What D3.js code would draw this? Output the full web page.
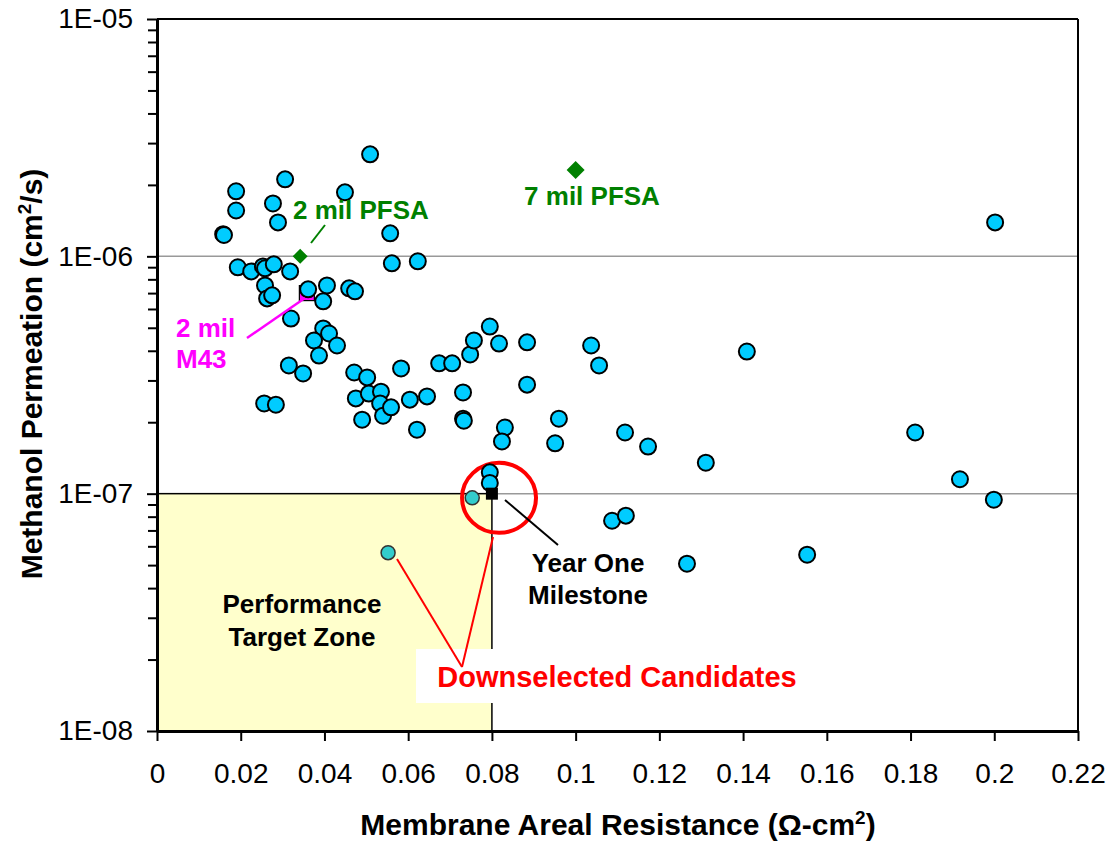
<!DOCTYPE html>
<html><head><meta charset="utf-8">
<script src="https://cdn.jsdelivr.net/npm/d3@7"></script>
<style>
body{margin:0;background:#fff;}
svg{display:block;font-family:"Liberation Sans",Arial,sans-serif;}
</style></head><body>
<svg id="chart" width="1112" height="841"></svg>
<script>
// ---------------- DATA ----------------
const resistance = [
  0.0509,0.0306,0.0189,0.0449,0.0277,0.0189,0.0289,0.0158,0.0160,0.0557,
  0.0561,0.0623,0.2002,0.0193,0.0225,0.0253,0.0258,0.0279,0.0318,0.0258,
  0.0263,0.0275,0.0361,0.0406,0.0397,0.0459,0.0473,0.0320,0.0397,0.0411,
  0.0375,0.0430,0.0387,0.0315,0.0349,0.0256,0.0284,0.0471,0.0502,0.0583,
  0.0674,0.0705,0.0748,0.0757,0.0795,0.0817,0.0884,0.1037,0.1056,0.0884,
  0.1409,0.0475,0.0506,0.0535,0.0533,0.0540,0.0559,0.0604,0.0645,0.0490,
  0.0621,0.0731,0.0731,0.0733,0.0831,0.0824,0.0960,0.0951,0.1118,0.1173,
  0.1311,0.1811,0.1918,0.1999,0.0795,0.0795,0.1087,0.1120,0.1266,0.1553
];
const permeation = [
  2.69e-6,2.11e-6,1.88e-6,1.86e-6,1.67e-6,1.56e-6,1.39e-6,1.24e-6,1.23e-6,1.25e-6,
  9.34e-7,9.53e-7,1.39e-6,8.99e-7,8.64e-7,9.07e-7,8.90e-7,9.25e-7,8.64e-7,7.54e-7,
  6.65e-7,6.85e-7,7.26e-7,7.54e-7,6.46e-7,7.33e-7,7.12e-7,5.47e-7,4.97e-7,4.73e-7,
  4.42e-7,4.21e-7,3.82e-7,3.47e-7,3.21e-7,2.40e-7,2.37e-7,3.24e-7,3.09e-7,3.37e-7,
  3.54e-7,3.54e-7,3.86e-7,4.42e-7,5.06e-7,4.29e-7,4.34e-7,4.21e-7,3.47e-7,2.88e-7,
  3.97e-7,2.52e-7,2.64e-7,2.69e-7,2.40e-7,2.13e-7,2.31e-7,2.49e-7,2.57e-7,2.05e-7,
  1.86e-7,2.67e-7,2.07e-7,2.03e-7,1.90e-7,1.66e-7,2.07e-7,1.63e-7,1.81e-7,1.58e-7,
  1.35e-7,1.81e-7,1.15e-7,9.43e-8,1.23e-7,1.11e-7,7.69e-8,8.08e-8,5.07e-8,5.53e-8
];
const downselectedResistance = [0.0753, 0.0552];
const downselectedPermeation = [9.6e-8, 5.64e-8];
const pfsaNames = ["2 mil PFSA", "7 mil PFSA"];
const pfsaResistance = [0.0342, 0.1];
const pfsaPermeation = [1.0e-6, 2.31e-6];
const m43Resistance = [0.0358];
const m43Permeation = [7.0e-7];
const milestoneResistance = [0.08];
const milestonePermeation = [1.0e-7];
const targetResistanceMax = 0.08;
const targetPermeationMax = 1.0e-7;
const xTicks = [0,0.02,0.04,0.06,0.08,0.1,0.12,0.14,0.16,0.18,0.2,0.22];
const xTickLabels = ["0","0.02","0.04","0.06","0.08","0.1","0.12","0.14","0.16","0.18","0.2","0.22"];
const yTicks = [1e-8,1e-7,1e-6,1e-5];
const yTickLabels = ["1E-08","1E-07","1E-06","1E-05"];

// ---------------- CHART ----------------
const svg = d3.select("#chart");
const x = d3.scaleLinear().domain([0,0.22]).range([157,1078]);
const y = d3.scaleLog().domain([1e-8,1e-5]).range([731,19]);
const font = '"Liberation Sans",Arial,sans-serif';

// gridlines (major decades)
svg.append("g").selectAll("line").data([1e-7,1e-6]).join("line")
  .attr("x1", x(0)).attr("x2", x(0.22))
  .attr("y1", d=>y(d)).attr("y2", d=>y(d))
  .attr("stroke","#999").attr("stroke-width",1.5);

// performance target zone
svg.append("rect")
  .attr("x", x(0)).attr("y", y(targetPermeationMax))
  .attr("width", x(targetResistanceMax)-x(0))
  .attr("height", y(1e-8)-y(targetPermeationMax))
  .attr("fill","#FFFFCC").attr("stroke","#000").attr("stroke-width",1.5);

// plot border top/right
svg.append("line").attr("x1",x(0)).attr("x2",x(0.22)).attr("y1",y(1e-5)).attr("y2",y(1e-5))
  .attr("stroke","#000").attr("stroke-width",2);
svg.append("line").attr("x1",x(0.22)).attr("x2",x(0.22)).attr("y1",y(1e-5)).attr("y2",y(1e-8))
  .attr("stroke","#000").attr("stroke-width",2);

// red ellipse around milestone
svg.append("ellipse")
  .attr("cx", x(0.0817)).attr("cy", y(9.6e-8)).attr("rx",37).attr("ry",35)
  .attr("fill","none").attr("stroke","#FF0000").attr("stroke-width",4);

// M43 marker (behind points)
svg.append("g").selectAll("rect").data(m43Resistance).join("rect")
  .attr("x",(d,i)=>x(d)-7.5).attr("y",(d,i)=>y(m43Permeation[i])-7.5)
  .attr("width",15).attr("height",15)
  .attr("fill","#FF00FF").attr("stroke","#000").attr("stroke-width",1.2);

// main series
svg.append("g").selectAll("circle").data(resistance).join("circle")
  .attr("cx", d=>x(d)).attr("cy", (d,i)=>y(permeation[i])).attr("r",8)
  .attr("fill","#00CCFF").attr("stroke","#000").attr("stroke-width",2);

// downselected candidates
svg.append("g").selectAll("circle").data(downselectedResistance).join("circle")
  .attr("cx", d=>x(d)).attr("cy", (d,i)=>y(downselectedPermeation[i])).attr("r",7)
  .attr("fill","#33CCCC").attr("stroke","#333").attr("stroke-width",1.5);

// PFSA diamonds
const diamondSizes = [15,18];
svg.append("g").selectAll("path").data(pfsaResistance).join("path")
  .attr("transform",(d,i)=>`translate(${x(d)},${y(pfsaPermeation[i])}) rotate(45)`)
  .attr("d",(d,i)=>{const s=diamondSizes[i]/Math.SQRT2; return `M${-s/2},${-s/2}h${s}v${s}h${-s}z`;})
  .attr("fill","#008000");

// milestone square
svg.append("g").selectAll("rect").data(milestoneResistance).join("rect")
  .attr("x",d=>x(d)-6).attr("y",(d,i)=>y(milestonePermeation[i])-6)
  .attr("width",12).attr("height",12).attr("fill","#000");

// axes
const xAxis = svg.append("g").attr("transform",`translate(0,${y(1e-8)})`)
  .call(d3.axisBottom(x).tickValues(xTicks).tickFormat((d,i)=>xTickLabels[i]).tickSize(10).tickPadding(22).tickSizeOuter(0));
xAxis.select(".domain").attr("stroke","#000").attr("stroke-width",3);
xAxis.selectAll(".tick line").attr("stroke","#000").attr("stroke-width",2);
xAxis.selectAll("text").attr("font-family",font).attr("font-size",28).attr("fill","#000");

const minor = [];
[1e-8,1e-7,1e-6].forEach(b=>{for(let k=2;k<=9;k++) minor.push(b*k);});
const yMinor = svg.append("g").attr("transform",`translate(${x(0)},0)`)
  .call(d3.axisLeft(y).tickValues(minor).tickFormat("").tickSize(9).tickSizeOuter(0));
yMinor.select(".domain").remove();
yMinor.selectAll(".tick line").attr("stroke","#000").attr("stroke-width",2);

const yAxis = svg.append("g").attr("transform",`translate(${x(0)},0)`)
  .call(d3.axisLeft(y).tickValues(yTicks).tickFormat((d,i)=>yTickLabels[i]).tickSize(10).tickPadding(14).tickSizeOuter(0));
yAxis.select(".domain").attr("stroke","#000").attr("stroke-width",3);
yAxis.selectAll(".tick line").attr("stroke","#000").attr("stroke-width",2);
yAxis.selectAll("text").attr("font-family",font).attr("font-size",28).attr("fill","#000");

// axis titles
const xt = svg.append("text").attr("x",618).attr("y",835).attr("text-anchor","middle")
  .attr("font-family",font).attr("font-size",30).attr("font-weight","bold");
xt.append("tspan").text("Membrane Areal Resistance (\u03A9-cm");
xt.append("tspan").attr("dy",-11).attr("font-size",19).text("2");
xt.append("tspan").attr("dy",11).text(")");

const yt = svg.append("text").attr("transform","translate(42,374) rotate(-90)").attr("text-anchor","middle")
  .attr("font-family",font).attr("font-size",30).attr("font-weight","bold");
yt.append("tspan").text("Methanol Permeation (cm");
yt.append("tspan").attr("dy",-11).attr("font-size",19).text("2");
yt.append("tspan").attr("dy",11).text("/s)");

// annotations
function label(txt, px, py, color, size, anchor){
  return svg.append("text").attr("x",px).attr("y",py).attr("text-anchor",anchor||"start")
    .attr("font-family",font).attr("font-size",size||26).attr("font-weight","bold")
    .attr("fill",color).text(txt);
}
function seg(x1,y1,x2,y2,color,w){
  svg.append("line").attr("x1",x1).attr("y1",y1).attr("x2",x2).attr("y2",y2)
    .attr("stroke",color).attr("stroke-width",w||2);
}
// 2 mil PFSA
label(pfsaNames[0], 293, 219, "#008000");
seg(311,243,325,225,"#008000",2);
// 7 mil PFSA
label(pfsaNames[1], 592, 205, "#008000", 26, "middle");
// 2 mil M43
label("2 mil", 176, 337, "#FF00FF");
label("M43", 176, 368, "#FF00FF");
seg(247,338,305,298,"#FF00FF",2.5);
// Performance Target Zone
label("Performance", 302, 613, "#000", 26, "middle");
label("Target Zone", 302, 646, "#000", 26, "middle");
// Year One Milestone
label("Year One", 588, 572, "#000", 26, "middle");
label("Milestone", 588, 604, "#000", 26, "middle");
seg(505,500,558,545,"#000",2);
// Downselected Candidates
svg.append("rect").attr("x",416).attr("y",649).attr("width",402).attr("height",54).attr("fill","#fff");
seg(397,559,462,667,"#FF0000",2);
seg(462,667,493,537,"#FF0000",2);
label("Downselected Candidates", 617, 687, "#FF0000", 29, "middle");
</script>
</body></html>
